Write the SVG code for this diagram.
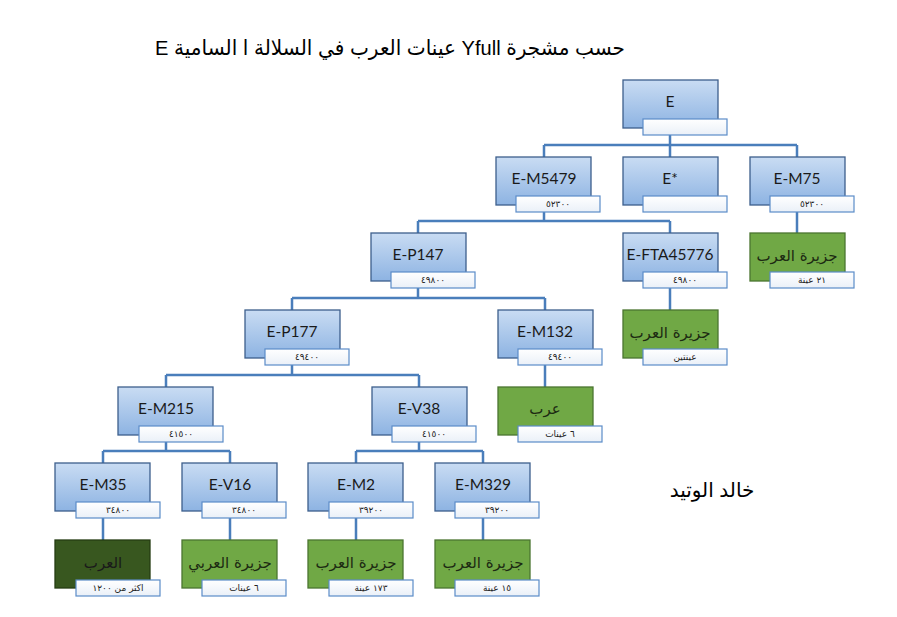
<svg xmlns="http://www.w3.org/2000/svg" width="897" height="617" viewBox="0 0 897 617">
<defs>
<linearGradient id="gb" x1="0" y1="0" x2="0" y2="1"><stop offset="0" stop-color="#c9dcf3"/><stop offset="1" stop-color="#8db3e2"/></linearGradient>
<linearGradient id="gs" x1="0" y1="0" x2="0" y2="1"><stop offset="0" stop-color="#ffffff"/><stop offset="1" stop-color="#eaf0f8"/></linearGradient>
<style>
.b{fill:url(#gb);stroke:#3d5f8c;stroke-width:1.3}
.g{fill:#70a845;stroke:#4b7530;stroke-width:1.3}
.gd{fill:#38571f;stroke:#253c13;stroke-width:1.3}
.s{fill:url(#gs);stroke:#5b8cc8;stroke-width:1.2}
.t{font-family:Lato,"Open Sans","DejaVu Sans",sans-serif;font-size:15.5px;fill:#1a1a1a;text-anchor:middle}
.a{font-family:"DejaVu Sans",sans-serif;font-size:15px;fill:#1c2a12;text-anchor:middle}
.n{font-family:"DejaVu Sans",sans-serif;font-size:9px;fill:#222;text-anchor:middle}
.c{fill:none;stroke:#4a7ebb;stroke-width:2.5}
.h{font-family:"Liberation Sans","DejaVu Sans",sans-serif;fill:#000;text-anchor:middle}
</style>
</defs>
<rect width="897" height="617" fill="#fff"/>
<text class="h" x="390" y="55" font-size="21" direction="rtl" textLength="470" lengthAdjust="spacingAndGlyphs">حسب مشجرة Yfull عينات العرب في السلالة ا السامية E</text>
<text class="h" x="712" y="497" font-size="20" direction="rtl">خالد الوتيد</text>
<g id="connectors">
<path class="c" d="M670 135V145M544 145H797M544 145V157M670 145V157M797 145V157"/>
<path class="c" d="M544 212V221M418 221H670M418 221V233M670 221V233"/>
<path class="c" d="M797 212V233"/>
<path class="c" d="M418 288V298M292 298H545M292 298V310M545 298V310"/>
<path class="c" d="M670 288V310"/>
<path class="c" d="M292 365V375M166 375H419M166 375V387M419 375V387"/>
<path class="c" d="M545 365V387"/>
<path class="c" d="M166 442V451M103 451H230M103 451V463M230 451V463"/>
<path class="c" d="M419 442V451M356 451H483M356 451V463M483 451V463"/>
<path class="c" d="M103 518V540M230 518V540M356 518V540M483 518V540"/>
</g>
<g id="n-E"><rect class="b" x="623" y="80" width="95" height="48"/><text class="t" x="670" y="107">E</text><rect class="s" x="643" y="119" width="84" height="16"/></g>
<g id="n-EM5479"><rect class="b" x="496" y="157" width="95" height="48"/><text class="t" x="544" y="184">E-M5479</text><rect class="s" x="516" y="196" width="84" height="16"/><text class="n" x="558" y="207">٥٢٣٠٠</text></g>
<g id="n-Estar"><rect class="b" x="623" y="157" width="95" height="48"/><text class="t" x="670" y="184">E*</text><rect class="s" x="643" y="196" width="84" height="16"/></g>
<g id="n-EM75"><rect class="b" x="750" y="157" width="95" height="48"/><text class="t" x="797" y="184">E-M75</text><rect class="s" x="770" y="196" width="84" height="16"/><text class="n" x="812" y="207">٥٢٣٠٠</text></g>
<g id="n-EP147"><rect class="b" x="371" y="233" width="95" height="48"/><text class="t" x="418" y="260">E-P147</text><rect class="s" x="391" y="272" width="84" height="16"/><text class="n" x="433" y="283">٤٩٨٠٠</text></g>
<g id="n-EFTA"><rect class="b" x="623" y="233" width="95" height="48"/><text class="t" x="670" y="260">E-FTA45776</text><rect class="s" x="643" y="272" width="84" height="16"/><text class="n" x="685" y="283">٤٩٨٠٠</text></g>
<g id="n-G75"><rect class="g" x="750" y="233" width="95" height="48"/><text class="a" x="797" y="261">جزيرة العرب</text><rect class="s" x="770" y="272" width="84" height="16"/><text class="n" x="812" y="283">٢١ عينة</text></g>
<g id="n-EP177"><rect class="b" x="245" y="310" width="95" height="48"/><text class="t" x="292" y="337">E-P177</text><rect class="s" x="265" y="349" width="84" height="16"/><text class="n" x="307" y="360">٤٩٤٠٠</text></g>
<g id="n-EM132"><rect class="b" x="498" y="310" width="95" height="48"/><text class="t" x="545" y="337">E-M132</text><rect class="s" x="518" y="349" width="84" height="16"/><text class="n" x="560" y="360">٤٩٤٠٠</text></g>
<g id="n-GFTA"><rect class="g" x="623" y="310" width="95" height="48"/><text class="a" x="670" y="338">جزيرة العرب</text><rect class="s" x="643" y="349" width="84" height="16"/><text class="n" x="685" y="360">عينتين</text></g>
<g id="n-EM215"><rect class="b" x="118" y="387" width="95" height="48"/><text class="t" x="166" y="414">E-M215</text><rect class="s" x="139" y="426" width="84" height="16"/><text class="n" x="181" y="437">٤١٥٠٠</text></g>
<g id="n-EV38"><rect class="b" x="372" y="387" width="95" height="48"/><text class="t" x="419" y="414">E-V38</text><rect class="s" x="392" y="426" width="84" height="16"/><text class="n" x="434" y="437">٤١٥٠٠</text></g>
<g id="n-G132"><rect class="g" x="498" y="387" width="95" height="48"/><text class="a" x="545" y="414">عرب</text><rect class="s" x="518" y="426" width="84" height="16"/><text class="n" x="560" y="437">٦ عينات</text></g>
<g id="n-EM35"><rect class="b" x="55" y="463" width="95" height="48"/><text class="t" x="103" y="490">E-M35</text><rect class="s" x="76" y="502" width="84" height="16"/><text class="n" x="118" y="513">٣٤٨٠٠</text></g>
<g id="n-EV16"><rect class="b" x="182" y="463" width="95" height="48"/><text class="t" x="230" y="490">E-V16</text><rect class="s" x="202" y="502" width="84" height="16"/><text class="n" x="244" y="513">٣٤٨٠٠</text></g>
<g id="n-EM2"><rect class="b" x="308" y="463" width="95" height="48"/><text class="t" x="356" y="490">E-M2</text><rect class="s" x="329" y="502" width="84" height="16"/><text class="n" x="371" y="513">٣٩٢٠٠</text></g>
<g id="n-EM329"><rect class="b" x="435" y="463" width="95" height="48"/><text class="t" x="483" y="490">E-M329</text><rect class="s" x="455" y="502" width="84" height="16"/><text class="n" x="497" y="513">٣٩٢٠٠</text></g>
<g id="n-G35"><rect class="gd" x="55" y="540" width="95" height="48"/><text class="a" x="103" y="568" style="fill:#1a1a1a">العرب</text><rect class="s" x="76" y="580" width="84" height="16"/><text class="n" x="118" y="591">اكثر من ١٢٠٠</text></g>
<g id="n-G16"><rect class="g" x="182" y="540" width="95" height="48"/><text class="a" x="230" y="568">جزيرة العربي</text><rect class="s" x="202" y="580" width="84" height="16"/><text class="n" x="244" y="591">٦ عينات</text></g>
<g id="n-G2"><rect class="g" x="308" y="540" width="95" height="48"/><text class="a" x="356" y="568">جزيرة العرب</text><rect class="s" x="329" y="580" width="84" height="16"/><text class="n" x="371" y="591">١٧٣ عينة</text></g>
<g id="n-G329"><rect class="g" x="435" y="540" width="95" height="48"/><text class="a" x="483" y="568">جزيرة العرب</text><rect class="s" x="455" y="580" width="84" height="16"/><text class="n" x="497" y="591">١٥ عينة</text></g>
</svg>
